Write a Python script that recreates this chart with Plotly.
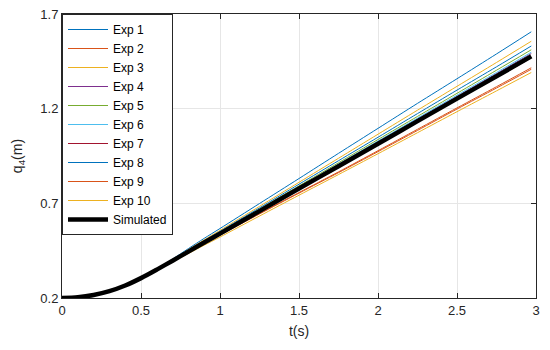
import plotly.graph_objects as go

# time samples (s)
t = [0, 0.1, 0.2, 0.3, 0.4, 0.5, 0.6, 0.7, 0.8, 0.9, 1.0, 1.25, 1.5, 1.75, 2.0, 2.25, 2.5, 2.75, 2.97]

exp1 = [0.200, 0.204, 0.216, 0.236, 0.266, 0.305, 0.354, 0.406, 0.461, 0.515, 0.567, 0.699, 0.831, 0.964, 1.096, 1.228, 1.358, 1.489, 1.606]
exp2 = [0.200, 0.204, 0.216, 0.236, 0.266, 0.305, 0.350, 0.396, 0.442, 0.488, 0.532, 0.644, 0.754, 0.862, 0.973, 1.085, 1.198, 1.309, 1.408]
exp3 = [0.200, 0.204, 0.216, 0.236, 0.266, 0.305, 0.352, 0.403, 0.455, 0.507, 0.557, 0.684, 0.811, 0.938, 1.065, 1.192, 1.318, 1.444, 1.556]
exp4 = [0.200, 0.204, 0.216, 0.236, 0.266, 0.305, 0.350, 0.398, 0.447, 0.496, 0.543, 0.664, 0.784, 0.904, 1.024, 1.145, 1.265, 1.385, 1.491]
exp5 = [0.200, 0.204, 0.216, 0.236, 0.266, 0.305, 0.351, 0.399, 0.449, 0.499, 0.547, 0.670, 0.792, 0.914, 1.037, 1.159, 1.281, 1.403, 1.511]
exp6 = [0.200, 0.204, 0.216, 0.236, 0.266, 0.305, 0.351, 0.399, 0.448, 0.497, 0.545, 0.666, 0.787, 0.907, 1.029, 1.150, 1.271, 1.391, 1.498]
exp7 = [0.200, 0.204, 0.216, 0.236, 0.266, 0.305, 0.350, 0.396, 0.444, 0.492, 0.538, 0.657, 0.775, 0.892, 1.010, 1.128, 1.247, 1.364, 1.468]
exp8 = [0.200, 0.204, 0.216, 0.236, 0.266, 0.305, 0.352, 0.401, 0.452, 0.502, 0.552, 0.676, 0.801, 0.925, 1.049, 1.174, 1.298, 1.421, 1.531]
exp9 = [0.200, 0.204, 0.216, 0.236, 0.266, 0.305, 0.350, 0.396, 0.442, 0.488, 0.533, 0.646, 0.757, 0.866, 0.978, 1.091, 1.204, 1.316, 1.416]
exp10 = [0.200, 0.204, 0.216, 0.236, 0.266, 0.305, 0.347, 0.391, 0.435, 0.479, 0.522, 0.633, 0.743, 0.852, 0.962, 1.073, 1.184, 1.294, 1.391]
simulated = [0.200, 0.204, 0.216, 0.236, 0.266, 0.305, 0.350, 0.397, 0.445, 0.493, 0.540, 0.659, 0.778, 0.896, 1.015, 1.134, 1.253, 1.371, 1.476]

names = ["Exp 1", "Exp 2", "Exp 3", "Exp 4", "Exp 5", "Exp 6", "Exp 7", "Exp 8", "Exp 9", "Exp 10"]
series = [exp1, exp2, exp3, exp4, exp5, exp6, exp7, exp8, exp9, exp10]
colors = ["#0072BD", "#D95319", "#EDB120", "#7E2F8E", "#77AC30", "#4DBEEE", "#A2142F",
          "#0072BD", "#D95319", "#EDB120"]

x_ticks = [0, 0.5, 1, 1.5, 2, 2.5, 3]
y_ticks = [0.2, 0.7, 1.2, 1.7]

fig = go.Figure()
for name, ys, c in zip(names, series, colors):
    fig.add_trace(go.Scatter(x=t, y=ys, mode="lines", name=name,
                             line=dict(color=c, width=1, shape="spline", smoothing=0.8)))
fig.add_trace(go.Scatter(x=t, y=simulated, mode="lines", name="Simulated",
                         line=dict(color="black", width=4.5, shape="spline", smoothing=0.8)))

axis_common = dict(showline=True, linecolor="#262626", linewidth=1, mirror="ticks",
                   ticks="inside", ticklen=5, tickcolor="#262626",
                   showgrid=True, gridcolor="#e6e6e6", gridwidth=1,
                   zeroline=False, automargin=False,
                   tickfont=dict(size=13, color="#262626"))

fig.update_layout(
    width=550, height=350,
    margin=dict(l=62, r=14, t=14, b=52),
    paper_bgcolor="white", plot_bgcolor="white",
    font=dict(family="Liberation Sans, Arial, sans-serif", color="#262626"),
    xaxis=dict(range=[0, 3], tickvals=x_ticks,
               title=dict(text="t(s)", font=dict(size=14), standoff=9),
               **axis_common),
    yaxis=dict(range=[0.2, 1.7], tickvals=y_ticks,
               title=dict(text="q<sub>4</sub>(m)", font=dict(size=14), standoff=14),
               **axis_common),
    legend=dict(x=0, y=1, xanchor="left", yanchor="top",
                bgcolor="white", bordercolor="#262626", borderwidth=1,
                font=dict(size=12, color="black"), tracegroupgap=0,
                itemwidth=40),
    showlegend=True,
)

fig.write_html("out.html", config={"displayModeBar": False},
               post_script="document.body.style.margin='0';document.body.style.padding='0';")
